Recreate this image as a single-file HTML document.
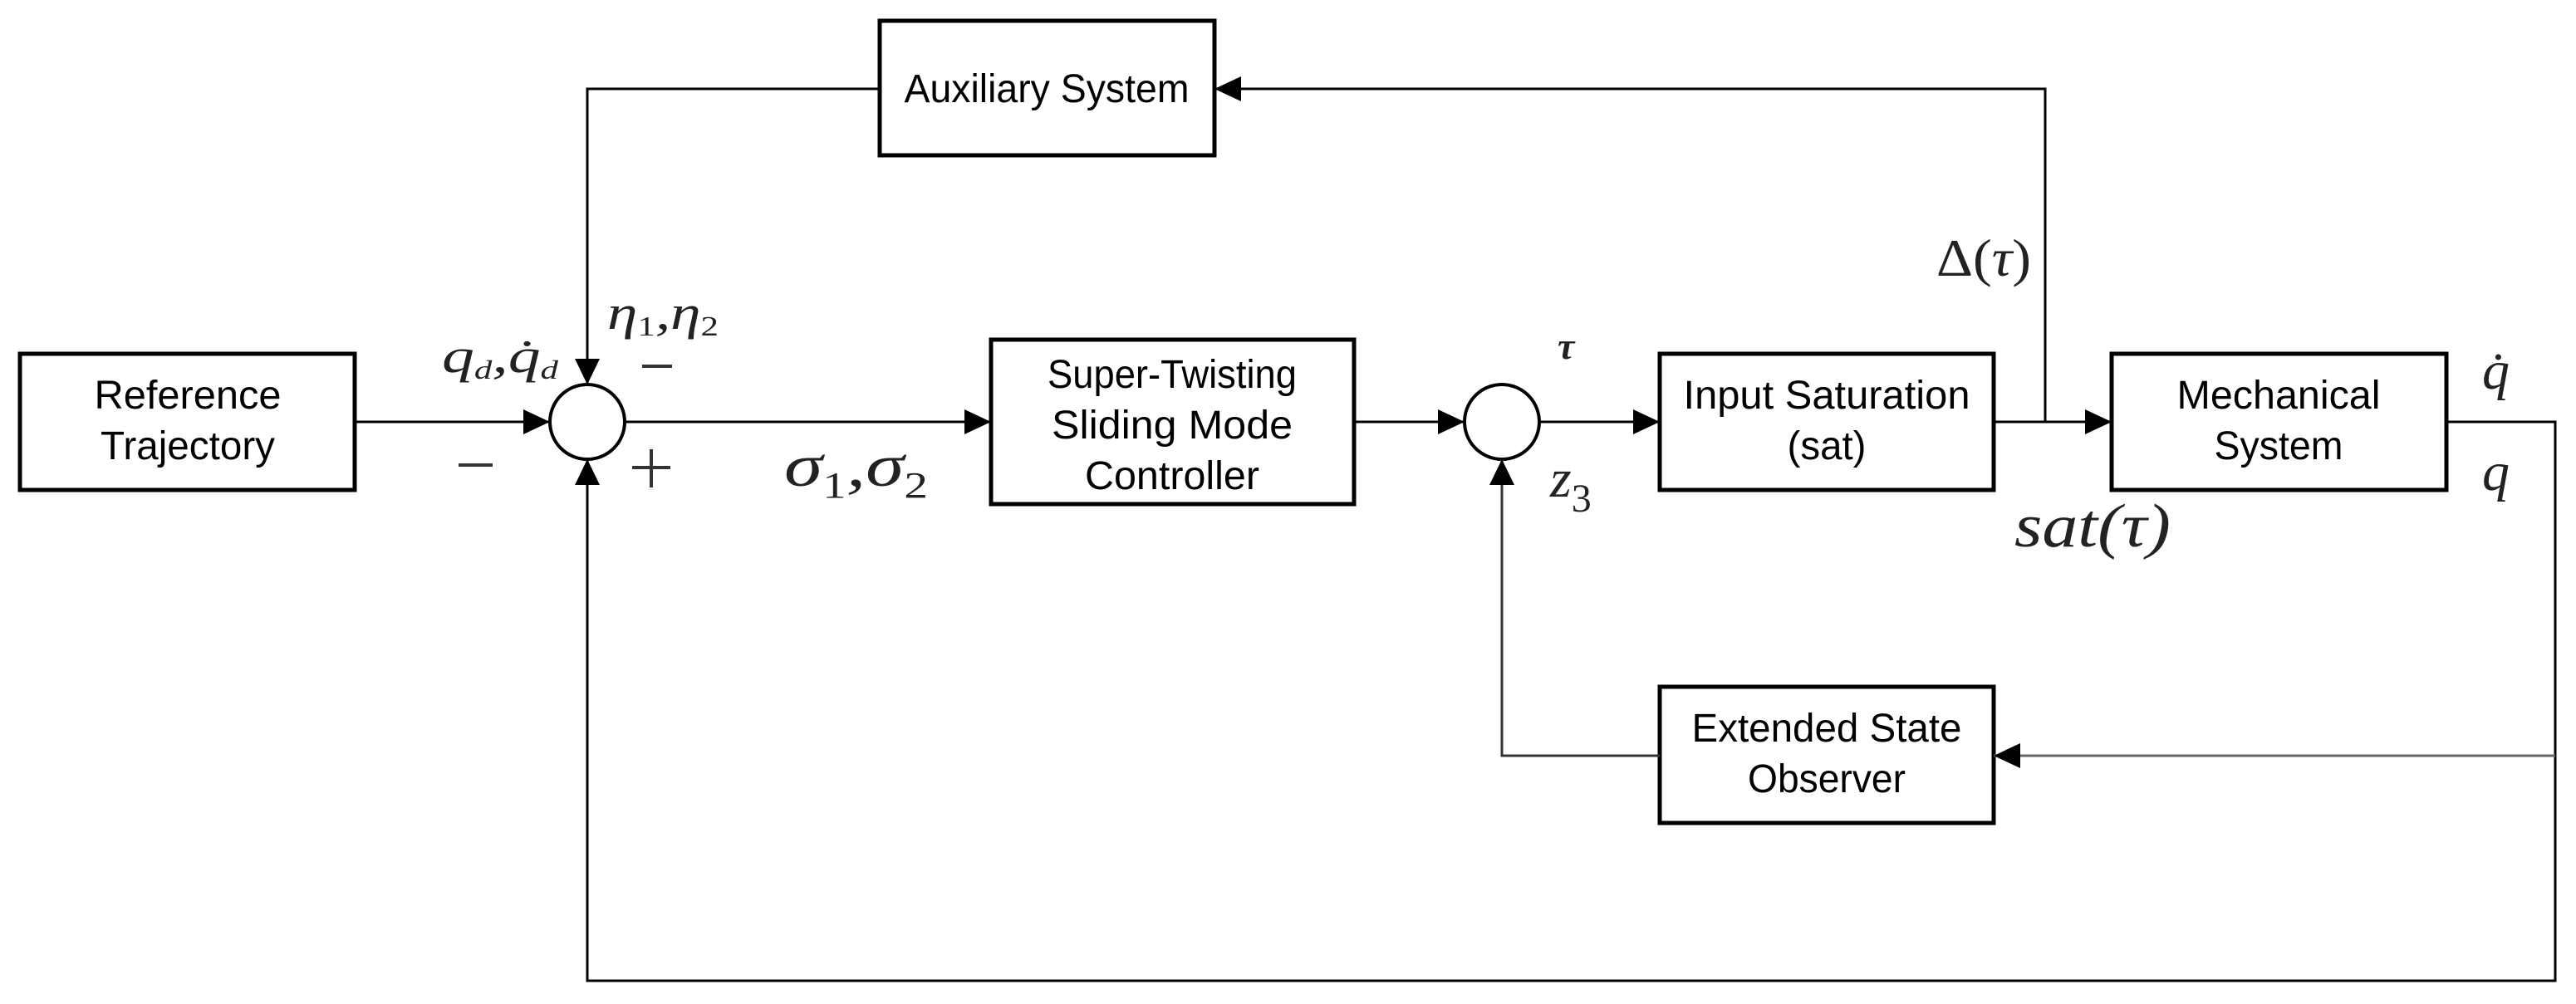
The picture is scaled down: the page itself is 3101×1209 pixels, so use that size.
<!DOCTYPE html>
<html><head><meta charset="utf-8"><style>html,body{margin:0;padding:0;background:#fff}svg{display:block}</style></head>
<body>
<svg width="3101" height="1209" viewBox="0 0 3101 1209" xmlns="http://www.w3.org/2000/svg">
<g fill="none" stroke="#000">
<g stroke-width="5">
<rect x="24" y="426" width="403" height="164"/>
<rect x="1059" y="25" width="403" height="162"/>
<rect x="1193" y="409" width="437" height="198"/>
<rect x="1998" y="426" width="402" height="164"/>
<rect x="2542" y="426" width="403" height="164"/>
<rect x="1998" y="827" width="402" height="164"/>
</g>
<g stroke-width="4">
<circle cx="707" cy="508" r="45"/>
<circle cx="1808" cy="508" r="45"/>
</g>
<g stroke-width="3">
<polyline points="427,508 662,508"/>
<polyline points="752,508 1193,508"/>
<polyline points="1630,508 1763,508"/>
<polyline points="1853,508 1998,508"/>
<polyline points="2400,508 2542,508"/>
<polyline points="2462,508 2462,107 1462,107"/>
<polyline points="1059,107 707,107 707,463"/>
<polyline points="2945,508 3076,508 3076,1181 707,1181 707,553"/>
<polyline points="3076,910 2400,910" stroke="#666"/>
<polyline points="1998,910 1808,910 1808,553" stroke="#333"/>
</g>
</g>
<g fill="#000">
<polygon points="662,508 630,493 630,523"/>
<polygon points="707,463 692,432 722,432"/>
<polygon points="707,553 692,584 722,584"/>
<polygon points="1193,508 1161,493 1161,523"/>
<polygon points="1763,508 1731,493 1731,523"/>
<polygon points="1808,553 1793,584 1823,584"/>
<polygon points="1998,508 1966,493 1966,523"/>
<polygon points="2542,508 2510,493 2510,523"/>
<polygon points="1462,107 1494,92 1494,122"/>
<polygon points="2400,910 2432,895 2432,925"/>
</g>
<g font-family="Liberation Sans, sans-serif" font-size="48" text-anchor="middle" fill="#000">
<text x="226" y="492" textLength="225" lengthAdjust="spacingAndGlyphs">Reference</text>
<text x="226" y="553" textLength="210" lengthAdjust="spacingAndGlyphs">Trajectory</text>
<text x="1260" y="123" textLength="343" lengthAdjust="spacingAndGlyphs">Auxiliary System</text>
<text x="1411" y="467" textLength="300" lengthAdjust="spacingAndGlyphs">Super-Twisting</text>
<text x="1411" y="528" textLength="290" lengthAdjust="spacingAndGlyphs">Sliding Mode</text>
<text x="1411" y="589" textLength="210" lengthAdjust="spacingAndGlyphs">Controller</text>
<text x="2199" y="492" textLength="345" lengthAdjust="spacingAndGlyphs">Input Saturation</text>
<text x="2199" y="553" textLength="95" lengthAdjust="spacingAndGlyphs">(sat)</text>
<text x="2743" y="492" textLength="245" lengthAdjust="spacingAndGlyphs">Mechanical</text>
<text x="2743" y="553" textLength="155" lengthAdjust="spacingAndGlyphs">System</text>
<text x="2199" y="893" textLength="325" lengthAdjust="spacingAndGlyphs">Extended State</text>
<text x="2199" y="954" textLength="190" lengthAdjust="spacingAndGlyphs">Observer</text>
</g>
<g font-family="Liberation Serif, serif" fill="#222">
<text x="532" y="448" font-size="58" font-style="italic" textLength="140" lengthAdjust="spacingAndGlyphs">q<tspan font-size="32" dy="8">d</tspan><tspan dy="-8">,q̇</tspan><tspan font-size="32" dy="8">d</tspan></text>
<text x="731" y="396" font-size="58" font-style="italic" textLength="134" lengthAdjust="spacingAndGlyphs">η<tspan font-size="34" dy="8" font-style="normal">1</tspan><tspan dy="-8">,η</tspan><tspan font-size="34" dy="8" font-style="normal">2</tspan></text>
<text x="944" y="585" font-size="72" font-style="italic" textLength="173" lengthAdjust="spacingAndGlyphs">σ<tspan font-size="44" dy="14" font-style="normal">1</tspan><tspan dy="-14">,σ</tspan><tspan font-size="44" dy="14" font-style="normal">2</tspan></text>
<text x="1875" y="432" font-size="46" font-style="italic" font-weight="bold">τ</text>
<text x="1866" y="598" font-size="66" font-style="italic">z<tspan font-size="48" dy="18" font-style="normal">3</tspan></text>
<text x="2331" y="332" font-size="64" textLength="114" lengthAdjust="spacingAndGlyphs">Δ(<tspan font-style="italic">τ</tspan>)</text>
<text x="2425" y="658" font-size="74" font-style="italic" textLength="188" lengthAdjust="spacingAndGlyphs">sat(τ)</text>
<text x="2988" y="468" font-size="66" font-style="italic">q̇</text>
<text x="2988" y="590" font-size="66" font-style="italic">q</text>
</g>
<g stroke="#333" stroke-width="4">
<line x1="773" y1="441" x2="809" y2="441"/>
<line x1="552" y1="560" x2="593" y2="560"/>
<line x1="761" y1="563" x2="807" y2="563"/>
<line x1="784" y1="541" x2="784" y2="587"/>
</g>
</svg>
</body></html>
